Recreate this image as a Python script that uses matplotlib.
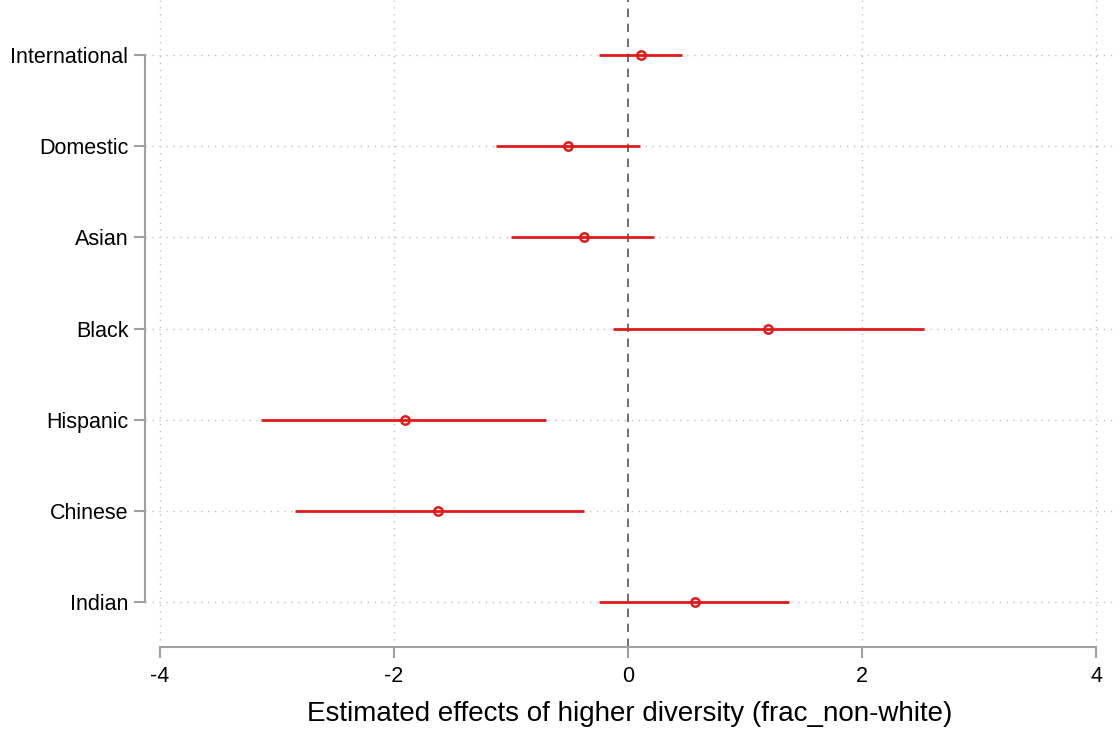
import matplotlib
matplotlib.use('Agg')
from matplotlib import pyplot as plt
import numpy as np

plt.rcParams['font.family'] = ['Liberation Sans', 'DejaVu Sans']

# Coefficients and 95% CIs (top to bottom)
groups = ['International', 'Domestic', 'Asian', 'Black', 'Hispanic', 'Chinese', 'Indian']
coef = [0.11, -0.51, -0.38, 1.20, -1.91, -1.62, 0.57]
ci_lo = [-0.25, -1.13, -1.00, -0.13, -3.14, -2.85, -0.25]
ci_hi = [0.46, 0.10, 0.22, 2.53, -0.70, -0.38, 1.38]
xticks = [-4, -2, 0, 2, 4]

red = '#e01a1a'
grey = '#a0a0a0'

fig = plt.figure(figsize=(11.2, 7.3), dpi=100)
ax = fig.add_axes([0.1295, 0.1137, 0.866, 0.8863])

ypos = np.arange(1, len(groups) + 1)

# grid
for x in xticks:
    if x == 0:
        continue
    ax.axvline(x, color='#c0c0c0', lw=1, ls=(0, (1, 4)), zorder=0)
for y in ypos:
    ax.axhline(y, color='#c0c0c0', lw=1, ls=(0, (1, 4)), zorder=0)
ax.axvline(0, color='#555555', lw=1.2, ls=(0, (5, 4)), zorder=1)

ax.hlines(ypos, ci_lo, ci_hi, color=red, lw=2, zorder=3)
ax.plot(coef, ypos, 'o', ms=6, mfc='none', mec=red, mew=1.8, zorder=4)

ax.set_xlim(-4.128, 4.162)
ax.set_ylim(7.49, 0.397)
ax.set_xticks(xticks)
ax.set_xticklabels(['-4', '-2', '0', '2', '4'])
ax.set_yticks(ypos)
ax.set_yticklabels(groups)
ax.tick_params(axis='both', labelsize=15.5, color=grey, length=8, width=1.5)
ax.tick_params(axis='x', pad=6)
ax.tick_params(axis='y', pad=4)

for s in ['top', 'right']:
    ax.spines[s].set_visible(False)
ax.spines['left'].set_bounds(1, 7)
ax.spines['bottom'].set_bounds(-4, 4)
for s in ['left', 'bottom']:
    ax.spines[s].set_color(grey)
    ax.spines[s].set_linewidth(1.5)

ax.set_xlabel('Estimated effects of higher diversity (frac_non-white)', fontsize=20, labelpad=10)

plt.savefig('out.png', dpi=100)
